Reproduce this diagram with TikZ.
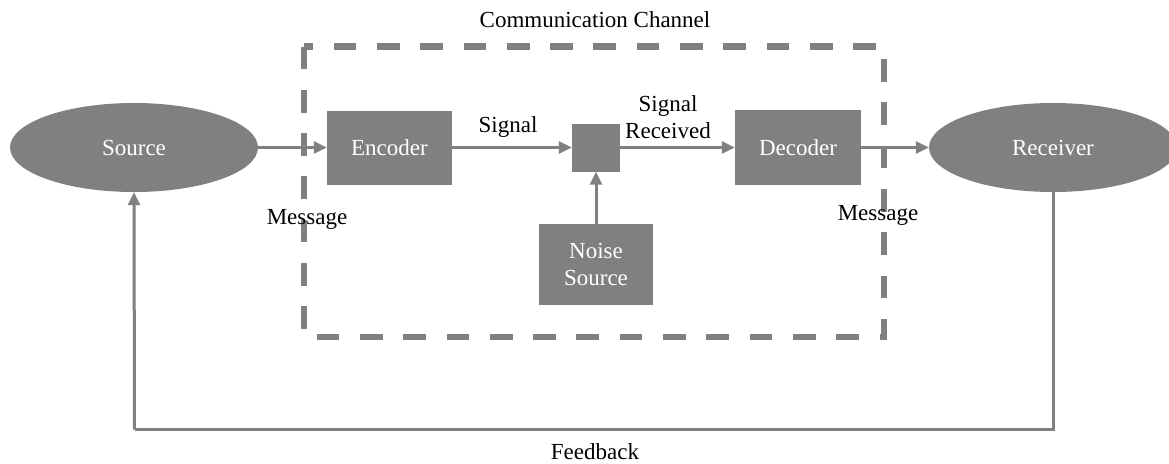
\documentclass[tikz,border=0pt]{standalone}
\usepackage{fontspec}
\setmainfont{Liberation Serif}
\usetikzlibrary{shapes.geometric,arrows.meta}
\definecolor{gr}{RGB}{128,128,128}
\tikzset{
  every node/.style={font=\fontsize{23}{27}\selectfont},
  box/.style={draw=none,fill=gr,text=white,inner sep=0pt,align=center},
  ell/.style={ellipse,fill=gr,text=white,inner sep=0pt,minimum width=248pt,minimum height=89pt},
  arr/.style={draw=gr,line width=3pt,-{Triangle[length=13pt,width=12pt]}},
  fb/.style={draw=gr,line width=3pt},
  chanbox/.style={draw=gr,line width=6.5pt,dash pattern=on 22.7pt off 20.6pt},
  lbl/.style={text=black,inner sep=0pt,align=center}
}
\begin{document}
\begin{tikzpicture}[x=1pt,y=-1pt]
\useasboundingbox (0,0) rectangle (1169,463);
% dashed channel boundary
\draw[chanbox] (304,46.5) rectangle (884,337);
\node[lbl] (cc) at (595,20) {Communication Channel};
% nodes
\node[ell] (src) at (134,147.5) {Source};
\node[ell] (rcv) at (1053,147.5) {Receiver};
\node[box,minimum width=125pt,minimum height=74pt] (enc) at (389.5,147.5) {Encoder};
\node[box,minimum width=126pt,minimum height=75pt] (dec) at (798,147.5) {Decoder};
\node[box,minimum width=48pt,minimum height=48pt] (chan) at (596,147.5) {};
\node[box,minimum width=114pt,minimum height=81pt] (noise) at (596,264.5) {Noise\\Source};
% connectors
\draw[arr] (src.east) -- (enc.west);
\draw[arr] (enc.east) -- (chan.west);
\draw[arr] (chan.east) -- (dec.west);
\draw[arr] (dec.east) -- (rcv.west);
\draw[arr] (noise.north) -- (chan.south);
\coordinate (fbr) at (1053,429.5);
\coordinate (fbl) at (134.5,429.5);
\draw[fb] (rcv.south) -- (fbr) -- (fbl);
\draw[arr] (fbl) -- (src.south);
% labels
\node[lbl] (sig) at (508,127) {Signal};
\node[lbl] (sigr) at (668,117) {Signal\\Received};
\node[lbl] (msg1) at (307,219) {Message};
\node[lbl] (msg2) at (878,215) {Message};
\node[lbl] (fbt) at (595,452) {Feedback};
\end{tikzpicture}
\end{document}
